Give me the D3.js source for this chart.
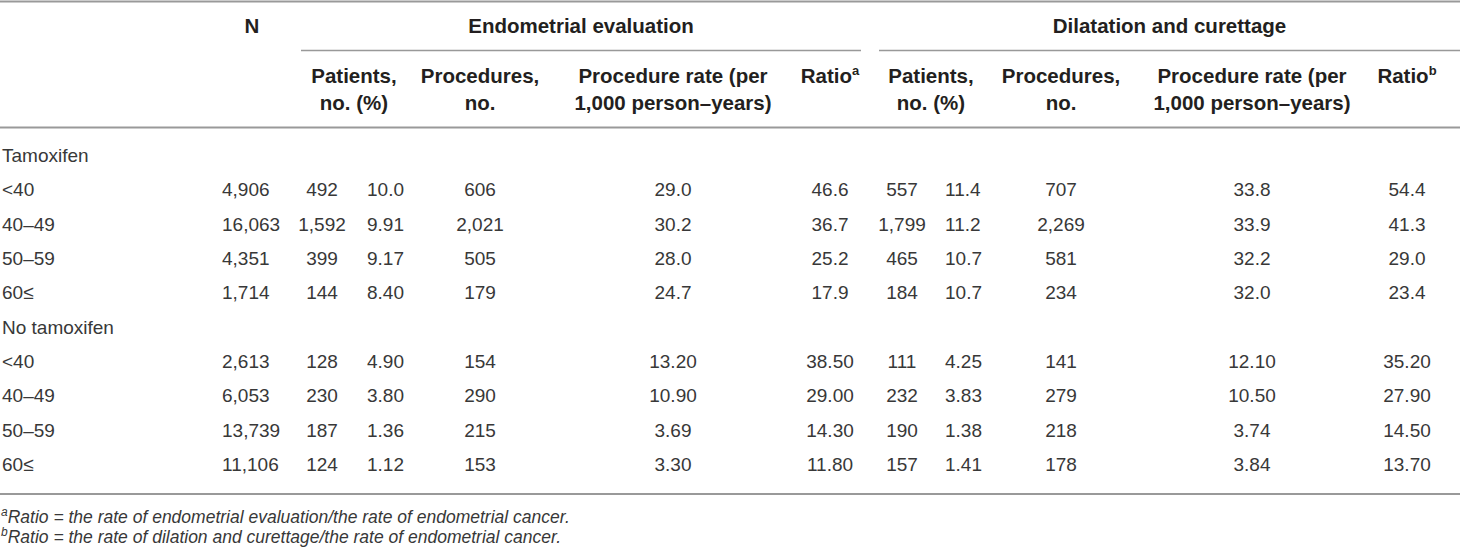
<!DOCTYPE html>
<html>
<head>
<meta charset="utf-8">
<script src="https://cdn.jsdelivr.net/npm/d3@7/dist/d3.min.js"></script>
<style>
  html, body { margin: 0; padding: 0; background: #fff; }
  svg { display: block; }
  .body { font-family: "Liberation Sans", Arial, Helvetica, sans-serif; font-size: 19px; fill: #383838; }
  .head { font-family: "Liberation Sans", Arial, Helvetica, sans-serif; font-size: 20.5px; font-weight: bold; fill: #231f20; }
  .foot { font-family: "Liberation Sans", Arial, Helvetica, sans-serif; font-size: 17.5px; font-style: italic; fill: #383838; }
</style>
</head>
<body>
<svg id="chart" width="1460" height="552"></svg>
<script>
const cohorts = ["Tamoxifen", "No tamoxifen"];
const ageGroups = ["<40", "40–49", "50–59", "60≤"];
const groupHeaders = ["Endometrial evaluation", "Dilatation and curettage"];
const subHeaders = [
  ["Patients,", "no. (%)"],
  ["Procedures,", "no."],
  ["Procedure rate (per", "1,000 person–years)"],
  ["Ratio", ""]
];
const ratioMarks = ["a", "b"];

const nTotal = [["4,906", "16,063", "4,351", "1,714"], ["2,613", "6,053", "13,739", "11,106"]];

const eePatients = [["492", "1,592", "399", "144"], ["128", "230", "187", "124"]];
const eePercent = [["10.0", "9.91", "9.17", "8.40"], ["4.90", "3.80", "1.36", "1.12"]];
const eeProcedures = [["606", "2,021", "505", "179"], ["154", "290", "215", "153"]];
const eeRate = [["29.0", "30.2", "28.0", "24.7"], ["13.20", "10.90", "3.69", "3.30"]];
const eeRatio = [["46.6", "36.7", "25.2", "17.9"], ["38.50", "29.00", "14.30", "11.80"]];

const dcPatients = [["557", "1,799", "465", "184"], ["111", "232", "190", "157"]];
const dcPercent = [["11.4", "11.2", "10.7", "10.7"], ["4.25", "3.83", "1.38", "1.41"]];
const dcProcedures = [["707", "2,269", "581", "234"], ["141", "279", "218", "178"]];
const dcRate = [["33.8", "33.9", "32.2", "32.0"], ["12.10", "10.50", "3.74", "3.84"]];
const dcRatio = [["54.4", "41.3", "29.0", "23.4"], ["35.20", "27.90", "14.50", "13.70"]];

const footnotes = [
  ["a", "Ratio = the rate of endometrial evaluation/the rate of endometrial cancer."],
  ["b", "Ratio = the rate of dilation and curettage/the rate of endometrial cancer."]
];

// ---- layout ----
const W = 1460;
const svg = d3.select("#chart");

// rows
const rows = [];
cohorts.forEach((c, k) => {
  rows.push({ key: "g" + k, type: "group", label: c });
  ageGroups.forEach((a, i) => rows.push({ key: "r" + k + "_" + i, type: "data", label: a, k, i }));
});
const y = d3.scalePoint().domain(rows.map(d => d.key)).range([155, 464]);

// columns
const columns = [
  { key: "n", arr: nTotal, anchor: "start" },
  { key: "eeP", arr: eePatients, anchor: "middle" },
  { key: "eePct", arr: eePercent, anchor: "start" },
  { key: "eeProc", arr: eeProcedures, anchor: "middle" },
  { key: "eeRate", arr: eeRate, anchor: "middle" },
  { key: "eeRatio", arr: eeRatio, anchor: "middle" },
  { key: "dcP", arr: dcPatients, anchor: "middle" },
  { key: "dcPct", arr: dcPercent, anchor: "start" },
  { key: "dcProc", arr: dcProcedures, anchor: "middle" },
  { key: "dcRate", arr: dcRate, anchor: "middle" },
  { key: "dcRatio", arr: dcRatio, anchor: "middle" }
];
const x = d3.scaleOrdinal()
  .domain(columns.map(c => c.key))
  .range([222, 322, 367, 480, 673, 830, 902, 945, 1061, 1252, 1407]);

// header column centres
const headX = d3.scaleOrdinal()
  .domain(["ee0", "ee1", "ee2", "ee3", "dc0", "dc1", "dc2", "dc3"])
  .range([354, 480, 673, 830, 931, 1061, 1252, 1407]);
const groupSpan = [[301, 861], [879, W]];

const baseline = (c, size) => c + size * 0.36;

// rules
const lineColor = "#999";
svg.append("line").attr("x1", 0).attr("x2", W).attr("y1", 1.5).attr("y2", 1.5)
  .attr("stroke", lineColor).attr("stroke-width", 2);
svg.append("line").attr("x1", 0).attr("x2", W).attr("y1", 127.5).attr("y2", 127.5)
  .attr("stroke", lineColor).attr("stroke-width", 2);
svg.append("line").attr("x1", 0).attr("x2", W).attr("y1", 494).attr("y2", 494)
  .attr("stroke", lineColor).attr("stroke-width", 2);
svg.selectAll("line.grp").data(groupSpan).join("line").attr("class", "grp")
  .attr("x1", d => d[0]).attr("x2", d => d[1]).attr("y1", 50.5).attr("y2", 50.5)
  .attr("stroke", lineColor).attr("stroke-width", 1.5);

// top header
svg.append("text").attr("class", "head").attr("x", 252).attr("y", 33)
  .attr("text-anchor", "middle").text("N");
svg.selectAll("text.grph").data(groupHeaders).join("text").attr("class", "head grph")
  .attr("x", (d, i) => (groupSpan[i][0] + groupSpan[i][1]) / 2)
  .attr("y", 33).attr("text-anchor", "middle").text(d => d);

// sub headers
["ee", "dc"].forEach((g, gi) => {
  subHeaders.forEach((lines, j) => {
    lines.forEach((t, li) => {
      if (!t) return;
      const tx = svg.append("text").attr("class", "head")
        .attr("x", headX(g + j)).attr("y", li === 0 ? 83 : 110)
        .attr("text-anchor", "middle");
      tx.append("tspan").text(t);
      if (j === 3 && li === 0) {
        tx.append("tspan").attr("font-size", 13).attr("dy", -8).text(ratioMarks[gi]);
      }
    });
  });
});

// row labels
svg.selectAll("text.rlab").data(rows).join("text").attr("class", "body rlab")
  .attr("x", 2).attr("y", d => baseline(y(d.key), 19)).text(d => d.label);

// cells
const dataRows = rows.filter(d => d.type === "data");
columns.forEach(col => {
  svg.selectAll("text.c_" + col.key).data(dataRows).join("text")
    .attr("class", "body c_" + col.key)
    .attr("x", x(col.key))
    .attr("y", d => baseline(y(d.key), 19))
    .attr("text-anchor", col.anchor)
    .text(d => col.arr[d.k][d.i]);
});

// footnotes
footnotes.forEach((f, i) => {
  const t = svg.append("text").attr("class", "foot").attr("x", 1).attr("y", 523 + i * 20);
  t.append("tspan").attr("font-size", 12).attr("dy", -7).text(f[0]);
  t.append("tspan").attr("dy", 7).text(f[1]);
});
</script>
</body>
</html>
